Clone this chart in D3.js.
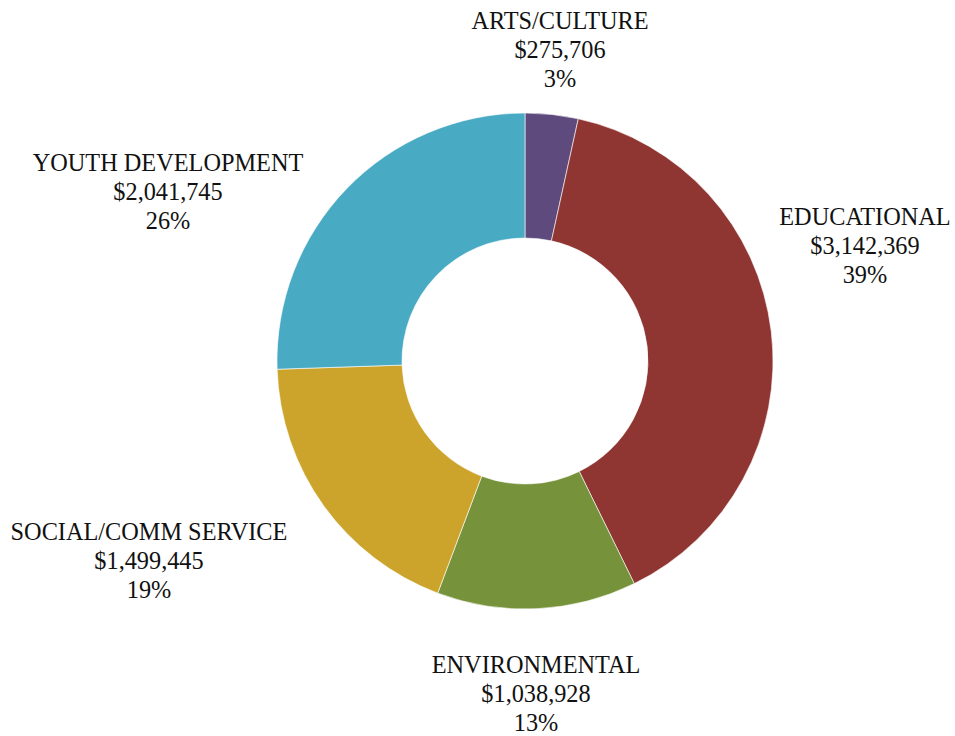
<!DOCTYPE html>
<html>
<head>
<meta charset="utf-8">
<script src="https://cdn.jsdelivr.net/npm/d3@7"></script>
<style>
  body { margin: 0; background: #fff; }
  .lbl { font-family: "Liberation Serif", "Times New Roman", serif; font-size: 24.3px; fill: #111; }
</style>
</head>
<body>
<svg id="donut" width="955" height="736"></svg>
<script>
let svg = d3.select('#donut');
let cx = 525, cy = 361;
let outerR = 248, innerR = 123;

// data
let categories = ['ARTS/CULTURE', 'EDUCATIONAL', 'ENVIRONMENTAL', 'SOCIAL/COMM SERVICE', 'YOUTH DEVELOPMENT'];
let amounts = [275706, 3142369, 1038928, 1499445, 2041745];
let percents = ['3%', '39%', '13%', '19%', '26%'];
let colors = ['#5e4a7d', '#8f3532', '#76933b', '#cda42b', '#49aac4'];

// label anchor (centre of first line's baseline), relative to the chart centre
let labelAt = [[35, -332], [340, -136], [11, 312], [-376, 179], [-357, -190]];

let data = categories.map((c, i) => ({name: c, value: amounts[i], pct: percents[i], color: colors[i]}));

let pie = d3.pie().sort(null).value(d => d.value);
let arc = d3.arc().innerRadius(innerR).outerRadius(outerR);

let g = svg.append('g').attr('transform', `translate(${cx},${cy})`);

g.selectAll('.slice')
  .data(pie(data))
  .join('path')
  .classed('slice', true)
  .attr('d', arc)
  .style('fill', d => d.data.color)
  .style('stroke', '#ffffff')
  .style('stroke-width', 0.6);

let fmt = d3.format(',');
let labels = g.selectAll('.lbl')
  .data(data)
  .join('text')
  .classed('lbl', true)
  .attr('text-anchor', 'middle')
  .attr('x', (d, i) => labelAt[i][0])
  .attr('y', (d, i) => labelAt[i][1]);

labels.each(function(d, i) {
  let t = d3.select(this);
  let lines = [d.name, '$' + fmt(d.value), d.pct];
  lines.forEach((s, k) => {
    t.append('tspan')
      .attr('x', labelAt[i][0])
      .attr('dy', k == 0 ? 0 : 29)
      .text(s);
  });
});
</script>
</body>
</html>
